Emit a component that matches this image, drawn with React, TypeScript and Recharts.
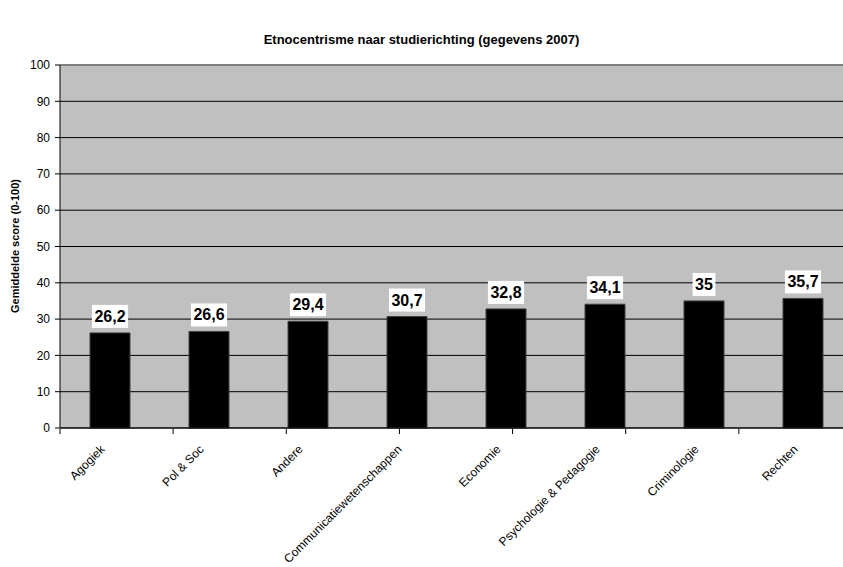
import { BarChart, Bar, XAxis, YAxis, CartesianGrid, LabelList, ReferenceLine } from "recharts";

const categories = [
  "Agogiek",
  "Pol & Soc",
  "Andere",
  "Communicatiewetenschappen",
  "Economie",
  "Psychologie & Pedagogie",
  "Criminologie",
  "Rechten",
];
const scores = [26.2, 26.6, 29.4, 30.7, 32.8, 34.1, 35, 35.7];
const yTicks = [0, 10, 20, 30, 40, 50, 60, 70, 80, 90, 100];
const edgeTicks = [0, 1, 2, 3, 4, 5, 6, 7, 8];

const data = categories.map((name, i) => ({ name, score: scores[i] }));

const FONT = '"Liberation Sans", Arial, sans-serif';

function CategoryTick({ x, y, payload }: any) {
  const tx = x - 4;
  const ty = y + 22;
  return (
    <text
      x={tx}
      y={ty}
      transform={`rotate(-45 ${tx} ${ty})`}
      textAnchor="end"
      fontSize={12}
      fontFamily={FONT}
      fill="#000"
    >
      {payload.value}
    </text>
  );
}

function ValueLabel({ x, y, width, value }: any) {
  const text = String(value).replace(".", ",");
  // rough Arial bold 16px widths: digits ~8.9, comma ~4.45
  let tw = 0;
  for (const ch of text) tw += ch === "," ? 4.45 : 8.9;
  const bw = tw + 5;
  const bh = 23;
  const cx = x + width / 2;
  const top = y - 5 - bh;
  return (
    <g>
      <rect x={cx - bw / 2} y={top} width={bw} height={bh} fill="#fff" />
      <text
        x={cx}
        y={top + 17}
        textAnchor="middle"
        fontSize={16}
        fontWeight="bold"
        fontFamily={FONT}
        fill="#000"
      >
        {text}
      </text>
    </g>
  );
}

export default function App() {
  return (
    <div
      style={{
        position: "relative",
        width: 843,
        height: 567,
        overflow: "hidden",
        background: "#fff",
        fontFamily: FONT,
      }}
    >
      <style>{"body{margin:0}"}</style>
      <div
        style={{
          position: "absolute",
          top: 32,
          left: 0,
          width: 843,
          textAlign: "center",
          fontSize: 13,
          fontWeight: "bold",
          lineHeight: "16px",
          color: "#000",
        }}
      >
        Etnocentrisme naar studierichting (gegevens 2007)
      </div>
      <div
        style={{
          position: "absolute",
          left: 15,
          top: 246,
          transform: "translate(-50%, -50%) rotate(-90deg)",
          whiteSpace: "nowrap",
          fontSize: 11,
          fontWeight: "bold",
          color: "#000",
        }}
      >
        Gemiddelde score (0-100)
      </div>
      <BarChart
        width={860}
        height={567}
        data={data}
        margin={{ top: 65, right: 8, bottom: 137, left: 0 }}
        barSize={40}
      >
        <CartesianGrid fill="#c0c0c0" fillOpacity={1} stroke="#000" vertical={false} />
        <ReferenceLine y={100} stroke="#808080" strokeWidth={2} />
        <XAxis
          dataKey="name"
          interval={0}
          height={1}
          tickSize={0}
          tickMargin={0}
          tickLine={false}
          axisLine={{ stroke: "#000" }}
          tick={<CategoryTick />}
        />
        <XAxis
          xAxisId="edges"
          type="number"
          domain={[0, 8]}
          ticks={edgeTicks}
          interval={0}
          height={1}
          tickSize={5}
          tickFormatter={() => ""}
          tickLine={{ stroke: "#000" }}
          axisLine={false}
        />
        <YAxis
          width={60}
          domain={[0, 100]}
          ticks={yTicks}
          tickSize={5}
          tickMargin={5}
          interval={0}
          axisLine={{ stroke: "#000" }}
          tickLine={{ stroke: "#000" }}
          tick={{ fontSize: 12, fill: "#000", fontFamily: FONT }}
        />
        <Bar dataKey="score" fill="#000" stroke="#404040" strokeWidth={1} isAnimationActive={false}>
          <LabelList dataKey="score" content={<ValueLabel />} />
        </Bar>
      </BarChart>
    </div>
  );
}
